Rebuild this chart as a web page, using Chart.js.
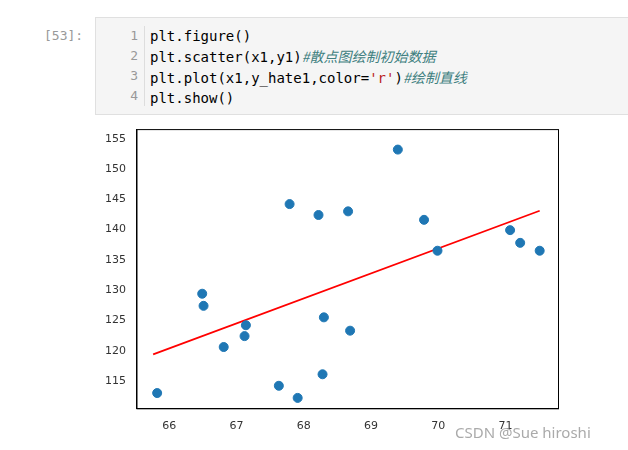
<!DOCTYPE html>
<html><head><meta charset="utf-8">
<script src="https://cdn.jsdelivr.net/npm/chart.js@4"></script>
<style>
body{margin:0;width:628px;height:450px;background:#fff;position:relative;overflow:hidden;font-family:"DejaVu Sans Mono",monospace}
#prompt{position:absolute;left:44px;top:28px;color:#999;font-size:13px}
#code{position:absolute;left:95px;top:17px;width:533px;height:96px;background:#f5f5f5;border:1px solid #e0e0e0}
#nums{position:absolute;left:0;top:8px;width:42px;text-align:right;color:#999;font-size:13px;line-height:20px;border-right:1px solid #ddd;padding-right:6px}
#lines{position:absolute;left:54px;top:8px;font-size:14px;line-height:20px;color:#000}
.c{color:#408080;font-style:italic;font-family:"Noto Sans CJK SC",monospace}.s{color:#ba2121}
#wrap{position:absolute;left:102px;top:120px;width:462px;height:316px}
#wm{position:absolute;left:455px;top:422px;font-family:"Noto Sans",sans-serif;font-size:15px;color:#aaa}
</style></head><body>
<div id="prompt">[53]:</div>
<div id="code"><div id="nums">1<br>2<br>3<br>4</div>
<div id="lines">plt.figure()<br>plt.scatter(x1,y1)<span class="c">#散点图绘制初始数据</span><br>plt.plot(x1,y_hate1,color=<span class="s">'r'</span>)<span class="c">#绘制直线</span><br>plt.show()</div></div>
<div id="wrap"><canvas id="c"></canvas></div>
<div id="wm">CSDN @Sue hiroshi</div>
<script>
const x1=[65.82,66.49,66.51,66.81,67.14,67.12,67.63,67.79,67.91,68.22,68.28,68.30,68.66,68.69,69.40,69.79,69.99,71.07,71.22,71.51];
const y1=[113.0,129.4,127.4,120.6,124.2,122.4,114.2,144.2,112.2,142.4,116.1,125.5,143.0,123.3,153.2,141.6,136.5,139.9,137.8,136.5];
const lineX=[65.76,71.51];
const lineY=[119.4,143.1];
const frame={id:'frame',afterDraw(ch){const a=ch.chartArea,c=ch.ctx;c.save();c.strokeStyle='#000';c.lineWidth=1;c.strokeRect(a.left,a.top,a.right-a.left,a.bottom-a.top);c.restore();}};
new Chart(document.getElementById('c'),{
type:'scatter',
data:{datasets:[
{data:x1.map((x,i)=>({x,y:y1[i]})),backgroundColor:'#1f77b4',borderColor:'#1f77b4',pointRadius:4.5},
{type:'line',data:lineX.map((x,i)=>({x,y:lineY[i]})),borderColor:'#ff0000',borderWidth:1.8,pointRadius:0,showLine:true}
]},
plugins:[frame],
options:{responsive:true,maintainAspectRatio:false,animation:false,
plugins:{legend:{display:false},tooltip:{enabled:false}},
scales:{
x:{min:65.52,max:71.79,grid:{display:false},border:{color:'#000'},
ticks:{color:'#333',font:{size:11,family:'DejaVu Sans'}},afterBuildTicks:a=>{a.ticks=[66,67,68,69,70,71].map(v=>({value:v}))}},
y:{min:110.4,max:156.5,grid:{display:false},border:{color:'#000'},
ticks:{color:'#333',font:{size:11,family:'DejaVu Sans'}},afterBuildTicks:a=>{a.ticks=[115,120,125,130,135,140,145,150,155].map(v=>({value:v}))}}
}}});
</script></body></html>
